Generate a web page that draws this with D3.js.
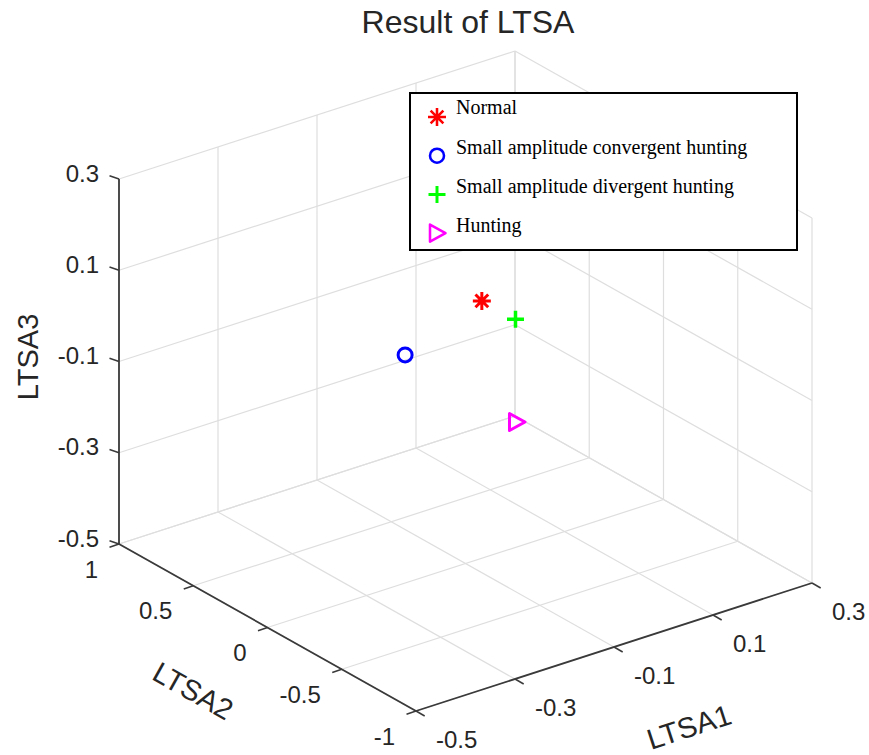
<!DOCTYPE html>
<html>
<head>
<meta charset="utf-8">
<script src="https://cdnjs.cloudflare.com/ajax/libs/d3/7.8.5/d3.min.js"></script>
<style>
    body { margin: 0; background: #fff; }
    text { font-family: "Liberation Sans", Arial, Helvetica, sans-serif; fill: #262626; }
    .legend text { font-family: "Liberation Serif", "Times New Roman", serif; fill: #000; }
</style>
</head>
<body>
<svg id="chart" width="869" height="755"></svg>
<script>
const categories = ["Normal", "Small amplitude convergent hunting", "Small amplitude divergent hunting", "Hunting"];
const ltsa1 = [-0.067, -0.222, 0.001, 0.003];
const ltsa2 = [0, 0, 0, 0];
const ltsa3 = [0.064, 0.0, 0.0, -0.226];
const colors = ["#ff0000", "#0000ff", "#00ff00", "#ff00ff"];
const markers = ["asterisk", "circle", "plus", "triangle"];

const ticks1 = [-0.5, -0.3, -0.1, 0.1, 0.3];
const ticks2 = [-1, -0.5, 0, 0.5, 1];
const ticks3 = [-0.5, -0.3, -0.1, 0.1, 0.3];

const svg = d3.select("#chart");

// orthographic view: screen vectors for each axis over its full range
const origin = [119, 544];
const vx = [396, -128];
const vy = [297, 167];
const vz = [0, -365];

const s1 = d3.scaleLinear().domain([-0.5, 0.3]).range([0, 1]);
const s2 = d3.scaleLinear().domain([1, -1]).range([0, 1]);
const s3 = d3.scaleLinear().domain([-0.5, 0.3]).range([0, 1]);

const proj = (a, b, c) => {
    const u = s1(a), v = s2(b), w = s3(c);
    return [
        origin[0] + u * vx[0] + v * vy[0] + w * vz[0],
        origin[1] + u * vx[1] + v * vy[1] + w * vz[1]
    ];
};

// grid on floor and the two back walls
const grid = [];
ticks1.forEach(t => {
    grid.push([[t, 1, -0.5], [t, -1, -0.5]]);
    grid.push([[t, 1, -0.5], [t, 1, 0.3]]);
});
ticks2.forEach(t => {
    grid.push([[-0.5, t, -0.5], [0.3, t, -0.5]]);
    grid.push([[0.3, t, -0.5], [0.3, t, 0.3]]);
});
ticks3.forEach(t => {
    grid.push([[-0.5, 1, t], [0.3, 1, t]]);
    grid.push([[0.3, 1, t], [0.3, -1, t]]);
});

svg.append("g")
    .selectAll("line")
    .data(grid)
    .enter()
    .append("line")
    .attr("x1", d => proj(...d[0])[0])
    .attr("y1", d => proj(...d[0])[1])
    .attr("x2", d => proj(...d[1])[0])
    .attr("y2", d => proj(...d[1])[1])
    .attr("stroke", "#dedede")
    .attr("stroke-width", 1.2);

// axis lines
const axes = [
    [[-0.5, 1, -0.5], [-0.5, 1, 0.3]],
    [[-0.5, 1, -0.5], [-0.5, -1, -0.5]],
    [[-0.5, -1, -0.5], [0.3, -1, -0.5]]
];
svg.append("g")
    .selectAll("line")
    .data(axes)
    .enter()
    .append("line")
    .attr("x1", d => proj(...d[0])[0])
    .attr("y1", d => proj(...d[0])[1])
    .attr("x2", d => proj(...d[1])[0])
    .attr("y2", d => proj(...d[1])[1])
    .attr("stroke", "#3a3a3a")
    .attr("stroke-width", 1.8);

const tickG = svg.append("g").attr("stroke", "#3a3a3a").attr("stroke-width", 1.5);
const labG = svg.append("g").attr("font-size", "24px");

// LTSA3 ticks
ticks3.forEach(t => {
    const p = proj(-0.5, 1, t);
    tickG.append("line").attr("x1", p[0]).attr("y1", p[1]).attr("x2", p[0] - 9.5).attr("y2", p[1] - 3.2);
    labG.append("text")
        .attr("x", p[0] - 20)
        .attr("y", p[1] - 6)
        .attr("text-anchor", "end")
        .attr("dominant-baseline", "central")
        .text(t);
});

// LTSA2 ticks
ticks2.forEach(t => {
    const p = proj(-0.5, t, -0.5);
    tickG.append("line").attr("x1", p[0]).attr("y1", p[1]).attr("x2", p[0] - 9.5).attr("y2", p[1] + 3.2);
    labG.append("text")
        .attr("x", p[0] - 21)
        .attr("y", p[1] + 25)
        .attr("text-anchor", "end")
        .attr("dominant-baseline", "central")
        .text(t);
});

// LTSA1 ticks
ticks1.forEach(t => {
    const p = proj(t, -1, -0.5);
    tickG.append("line").attr("x1", p[0]).attr("y1", p[1]).attr("x2", p[0] + 8.7).attr("y2", p[1] + 5);
    labG.append("text")
        .attr("x", p[0] + 20)
        .attr("y", p[1] + 28)
        .attr("text-anchor", "start")
        .attr("dominant-baseline", "central")
        .text(t);
});

// axis labels
svg.append("text")
    .attr("font-size", "29px")
    .attr("text-anchor", "middle")
    .attr("dominant-baseline", "central")
    .attr("transform", "translate(28,357) rotate(-90)")
    .text("LTSA3");

svg.append("text")
    .attr("font-size", "29px")
    .attr("text-anchor", "middle")
    .attr("dominant-baseline", "central")
    .attr("transform", "translate(193,691) rotate(29.3)")
    .text("LTSA2");

svg.append("text")
    .attr("font-size", "29px")
    .attr("text-anchor", "middle")
    .attr("dominant-baseline", "central")
    .attr("transform", "translate(689,727) rotate(-18)")
    .text("LTSA1");

svg.append("text")
    .attr("font-size", "32px")
    .attr("x", 468)
    .attr("y", 33)
    .attr("text-anchor", "middle")
    .text("Result of LTSA");

// marker shapes
const markerPath = (type) => {
    if (type === "asterisk") {
        const r = 9, d = r * Math.SQRT1_2;
        return `M0,${-r}V${r}M${-r},0H${r}M${-d},${-d}L${d},${d}M${-d},${d}L${d},${-d}`;
    }
    if (type === "circle") {
        const r = 7;
        return `M${r},0A${r},${r} 0 1,1 ${-r},0A${r},${r} 0 1,1 ${r},0Z`;
    }
    if (type === "plus") {
        const r = 8.5;
        return `M0,${-r}V${r}M${-r},0H${r}`;
    }
    return "M-7,-8.5L8.5,0L-7,8.5Z";
};
const markerWidth = { asterisk: 3, circle: 3, plus: 3.5, triangle: 3 };

const points = categories.map((c, i) => ({
    name: c, a: ltsa1[i], b: ltsa2[i], c: ltsa3[i], color: colors[i], marker: markers[i]
}));

svg.append("g")
    .selectAll("path")
    .data(points)
    .enter()
    .append("path")
    .attr("transform", d => `translate(${proj(d.a, d.b, d.c).join(",")})`)
    .attr("d", d => markerPath(d.marker))
    .attr("fill", "none")
    .attr("stroke", d => d.color)
    .attr("stroke-width", d => markerWidth[d.marker])
    .attr("stroke-linejoin", "round");

// legend
const legend = svg.append("g").attr("class", "legend");
legend.append("rect")
    .attr("x", 410)
    .attr("y", 93)
    .attr("width", 387)
    .attr("height", 157)
    .attr("fill", "#fff")
    .attr("stroke", "#000")
    .attr("stroke-width", 2);

const items = legend.selectAll(".item")
    .data(points)
    .enter()
    .append("g")
    .attr("class", "item");

items.append("path")
    .attr("transform", (d, i) => `translate(437,${117 + i * 38.7})`)
    .attr("d", d => markerPath(d.marker))
    .attr("fill", "none")
    .attr("stroke", d => d.color)
    .attr("stroke-width", d => markerWidth[d.marker] * 0.85)
    .attr("stroke-linejoin", "round");

items.append("text")
    .attr("x", 456)
    .attr("y", (d, i) => 114.3 + i * 39.3)
    .attr("font-size", "20px")
    .text(d => d.name);
</script>
</body>
</html>
